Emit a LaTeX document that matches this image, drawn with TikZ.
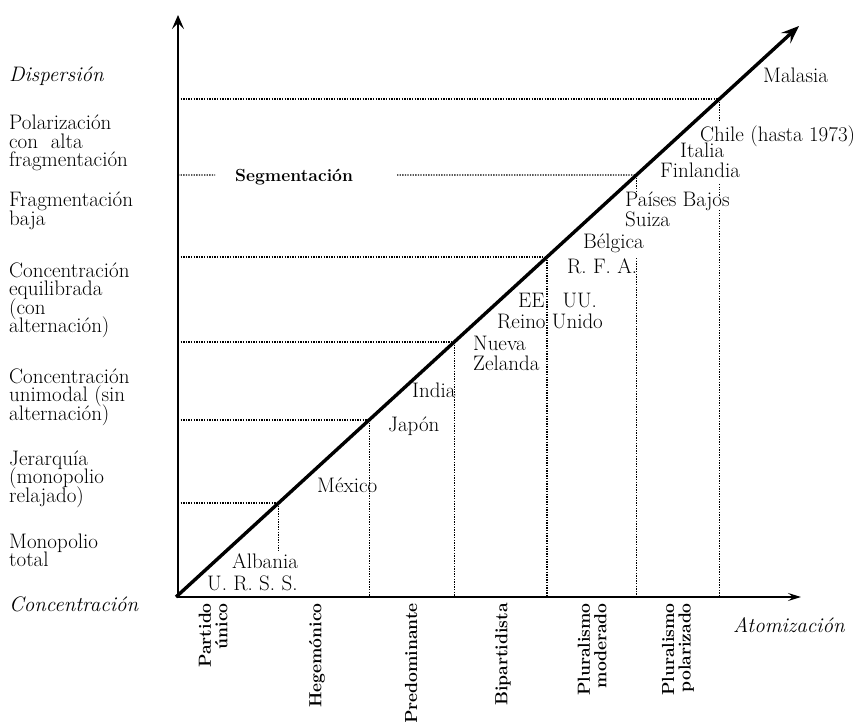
\documentclass[tikz,border=0pt]{standalone}
\usetikzlibrary{arrows.meta}
\newcommand\lblfont{\fontsize{21}{18.5}\selectfont\lineskiplimit=-30pt\relax}
\newcommand\typfont{\fontsize{17.5}{16.5}\selectfont\bfseries\lineskiplimit=-30pt\relax}
\begin{document}
\begin{tikzpicture}[x=1pt,y=-1pt,
  lbl/.style={anchor=base west, align=left, inner sep=0pt, font=\lblfont},
  ilbl/.style={anchor=base west, inner sep=0pt, font=\lblfont\itshape},
  txt/.style={anchor=base west, inner sep=0pt, font=\lblfont},
  typ/.style={rotate=90, anchor=east, align=right, inner sep=0pt, font=\typfont},
  dotl/.style={line width=1.2pt, dash pattern=on 1.3pt off 1.3pt},
  axisl/.style={line width=2.4pt},
  diag/.style={line width=3.4pt}
]
\useasboundingbox (0,0) rectangle (862,722);

% axes and diagonal coordinates
\coordinate (O) at (178,597);
\coordinate (Ytop) at (178,15);
\coordinate (Xend) at (801,597);
\coordinate (D0) at (176,597);
\coordinate (T) at (799,26);
\path (D0) -- (T)
  coordinate[pos=0.16462] (d1)
  coordinate[pos=0.30998] (d2)
  coordinate[pos=0.44658] (d3)
  coordinate[pos=0.59545] (d4)
  coordinate[pos=0.73905] (d5)
  coordinate[pos=0.87215] (d6);

\coordinate (c552) at (0,552);
\coordinate (c192) at (0,192);
\coordinate (c258) at (0,258);
\coordinate (c122) at (0,122);
\coordinate (c184) at (0,184);
\coordinate (c196) at (0,196);
\coordinate (c210) at (0,210);
\coordinate (s1) at (215,175);
\coordinate (s2) at (397,175);

% dotted guide lines
\draw[dotl] (d1 -| O) -- (d1);
\draw[dotl] (d2 -| O) -- (d2);
\draw[dotl] (d3 -| O) -- (d3);
\draw[dotl] (d4 -| O) -- (d4);
\draw[dotl] (d5 -| O) -- (s1);
\draw[dotl] (s2) -- (d5);
\draw[dotl] (d6 -| O) -- (d6);

\draw[dotl] (d1) -- (d1 |- c552);
\draw[dotl] (d2) -- (d2 |- O);
\draw[dotl] (d3) -- (d3 |- O);
\draw[dotl] (d4) -- (d4 |- O);
\draw[dotl] (d5) -- (d5 |- c192);
\draw[dotl] (d5 |- c258) -- (d5 |- O);
\draw[dotl] (d6) -- (d6 |- c122);
\draw[dotl] (d6 |- c184) -- (d6 |- c196);
\draw[dotl] (d6 |- c210) -- (d6 |- O);

% axes
\draw[axisl, {Stealth[length=14pt,width=12pt,inset=6pt]}-{Stealth[length=13pt,width=8pt,inset=5pt]}] (Ytop) -- (O) -- (Xend);
% diagonal
\draw[diag, -{Stealth[length=18pt,width=14pt,inset=7pt]}] (D0) -- (T);

% left labels
\node[ilbl] (l0) at (9,82) {Dispersión};
\node[lbl] (l1) at (9,167) {Polarización\\con\ \ alta\\fragmentación};
\node[lbl] (l2) at (9,225.5) {Fragmentación\\baja};
\node[lbl] (l3) at (9,332.5) {Concentración\\equilibrada\\(con\\alternación)};
\node[lbl] (l4) at (9,420) {Concentración\\unimodal (sin\\alternación)};
\node[lbl] (l5) at (9,502) {Jerarquía\\(monopolio\\relajado)};
\node[lbl] (l6) at (9,566.5) {Monopolio\\total};
\node[ilbl] (l7) at (9,611) {Concentración};

% bottom labels
\node[typ] (b1) at (213,603) {Partido\\único};
\node[typ] (b2) at (317,603) {Hegemónico};
\node[typ] (b3) at (411,603) {Predominante};
\node[typ] (b4) at (503,603) {Bipartidista};
\node[typ] (b5) at (592,603) {Pluralismo\\moderado};
\node[typ] (b6) at (678,603) {Pluralismo\\polarizado};
\node[ilbl] (atom) at (733,632) {Atomización};

% countries
\node[txt] (malasia) at (763,83) {Malasia};
\node[txt] (chile) at (700,142) {Chile (hasta 1973)};
\node[txt] (italia) at (680,158) {Italia};
\node[txt] (finlandia) at (660,178) {Finlandia};
\node[txt] (paises) at (625,207) {Países Bajos};
\node[txt] (suiza) at (625,227) {Suiza};
\node[txt] (belgica) at (583,248) {Bélgica};
\node[txt] (rfa) at (567,273) {R. F. A.};
\node[txt] (eeuu) at (518,307) {EE.\ \ UU.};
\node[txt] (reino) at (497,328) {Reino Unido};
\node[txt] (nueva) at (473,350) {Nueva};
\node[txt] (zelanda) at (473,370) {Zelanda};
\node[txt] (india) at (412,397) {India};
\node[txt] (japon) at (388,431) {Japón};
\node[txt] (mexico) at (317,492) {México};
\node[txt] (albania) at (232,568) {Albania};
\node[txt] (urss) at (207,590) {U. R. S. S.};
\node[anchor=base west, inner sep=0pt, font=\fontsize{17.5}{17.5}\selectfont\bfseries] (segm) at (235,182) {Segmentación};
\end{tikzpicture}
\end{document}
